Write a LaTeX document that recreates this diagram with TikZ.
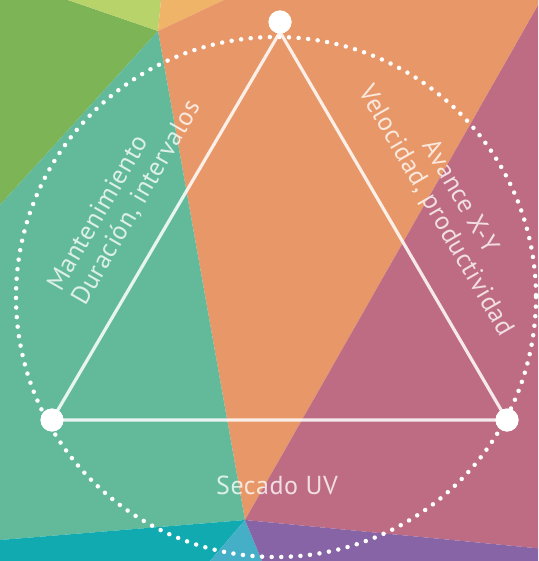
\documentclass[tikz,border=0pt]{standalone}
\usepackage{fontspec}
\setmainfont{PT Sans}[LetterSpace=2]
\definecolor{verde}{HTML}{7DB455}
\definecolor{verdeclaro}{HTML}{B7D36A}
\definecolor{naranjaclaro}{HTML}{F0B469}
\definecolor{naranja}{HTML}{E89868}
\definecolor{turquesa}{HTML}{63BA9B}
\definecolor{rosa}{HTML}{BE6C84}
\definecolor{cian}{HTML}{10AAB0}
\definecolor{azulclaro}{HTML}{46AFC8}
\definecolor{morado}{HTML}{8764A5}

\begin{document}
\begin{tikzpicture}[x=1pt,y=-1pt,
  vertice/.style={circle,fill=white,inner sep=0pt,minimum size=23pt},
  lado/.style={white,opacity=.85,line width=3.2pt,line join=round},
  rotulo/.style={text=white,text opacity=.78,inner sep=0pt,
    font={\fontsize{26}{28}\selectfont}}]
\useasboundingbox (0,0) rectangle (538,561);
% fondo de poligonos
\begin{scope}
\clip (0,0) rectangle (538,561);
\fill[verde] (0,0) -- (68,0) -- (158,31) -- (0,205) -- cycle;
\fill[verdeclaro] (68,0) -- (161,0) -- (158,31) -- cycle;
\fill[naranjaclaro] (161,0) -- (224,0) -- (158,31) -- cycle;
\fill[naranja] (158,31) -- (224,0) -- (541,0) -- (245,520) -- cycle;
\fill[turquesa] (0,205) -- (158,31) -- (245,520) -- (0,540) -- cycle;
\fill[rosa] (541,0) -- (545,0) -- (545,549) -- (245,520) -- cycle;
\fill[cian] (0,540) -- (245,520) -- (210,561) -- (0,561) -- cycle;
\fill[azulclaro] (245,520) -- (210,561) -- (262,561) -- cycle;
\fill[morado] (245,520) -- (262,561) -- (545,561) -- (545,549) -- cycle;
\end{scope}
% circulo punteado
\draw[white,line width=4.5pt,line cap=round,dash pattern=on 0pt off 9.6pt]
  (276,297) circle[radius=260];
% triangulo
\node[vertice] (arriba) at (280,22) {};
\node[vertice] (izq) at (52,420) {};
\node[vertice] (der) at (507,420) {};
\coordinate (cima) at (280,32);
\draw[lado] (izq.center) -- (cima) -- (der.center) -- cycle;
\node[vertice] at (arriba) {};
\node[vertice] at (izq) {};
\node[vertice] at (der) {};
% textos
\node[rotulo,rotate=60,align=left] (mant) at (125,196)
  {Mantenimiento\\Duración, intervalos};
\node[rotulo,rotate=-60,align=center] (avance) at (447,204)
  {Avance X-Y\\Velocidad, productividad};
\node[rotulo] (secado) at (277,485) {Secado UV};
\end{tikzpicture}
\end{document}
